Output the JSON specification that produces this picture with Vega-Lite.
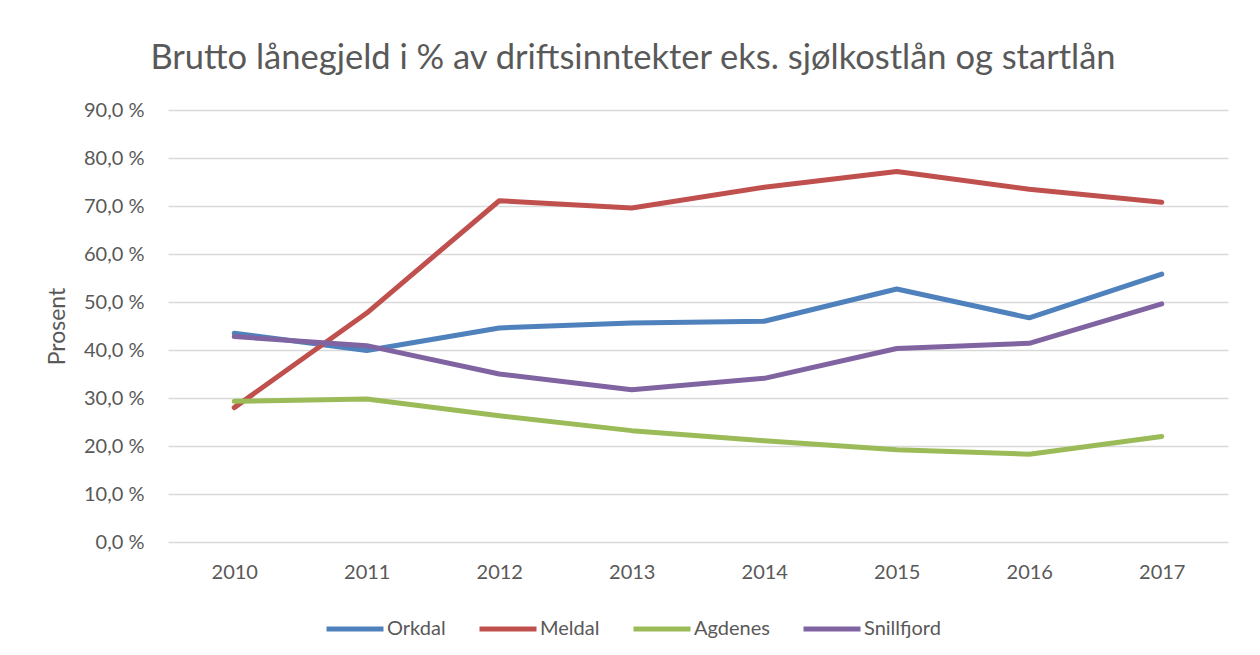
{
  "$schema": "https://vega.github.io/schema/vega-lite/v6.json",
  "width": 1060,
  "height": 432,
  "autosize": "none",
  "padding": {"left": 168, "top": 110, "right": 32, "bottom": 113},
  "background": "#ffffff",
  "title": {
    "text": "Brutto lånegjeld i % av driftsinntekter eks. sjølkostlån og startlån",
    "anchor": "middle",
    "frame": "group",
    "dx": -65,
    "offset": 24,
    "font": "Lato",
    "fontSize": 34.5,
    "fontWeight": "normal",
    "color": "#595959"
  },
  "data": {
    "values": [
      {"year": "2010", "kommune": "Orkdal", "value": 43.5},
      {"year": "2011", "kommune": "Orkdal", "value": 39.9},
      {"year": "2012", "kommune": "Orkdal", "value": 44.6},
      {"year": "2013", "kommune": "Orkdal", "value": 45.6},
      {"year": "2014", "kommune": "Orkdal", "value": 46.0},
      {"year": "2015", "kommune": "Orkdal", "value": 52.7},
      {"year": "2016", "kommune": "Orkdal", "value": 46.7},
      {"year": "2017", "kommune": "Orkdal", "value": 55.8},
      {"year": "2010", "kommune": "Meldal", "value": 28.0},
      {"year": "2011", "kommune": "Meldal", "value": 47.7},
      {"year": "2012", "kommune": "Meldal", "value": 71.1},
      {"year": "2013", "kommune": "Meldal", "value": 69.6},
      {"year": "2014", "kommune": "Meldal", "value": 73.9},
      {"year": "2015", "kommune": "Meldal", "value": 77.2},
      {"year": "2016", "kommune": "Meldal", "value": 73.5},
      {"year": "2017", "kommune": "Meldal", "value": 70.8},
      {"year": "2010", "kommune": "Agdenes", "value": 29.3},
      {"year": "2011", "kommune": "Agdenes", "value": 29.8},
      {"year": "2012", "kommune": "Agdenes", "value": 26.3},
      {"year": "2013", "kommune": "Agdenes", "value": 23.2},
      {"year": "2014", "kommune": "Agdenes", "value": 21.1},
      {"year": "2015", "kommune": "Agdenes", "value": 19.2},
      {"year": "2016", "kommune": "Agdenes", "value": 18.3},
      {"year": "2017", "kommune": "Agdenes", "value": 22.0},
      {"year": "2010", "kommune": "Snillfjord", "value": 42.8},
      {"year": "2011", "kommune": "Snillfjord", "value": 40.9},
      {"year": "2012", "kommune": "Snillfjord", "value": 35.0},
      {"year": "2013", "kommune": "Snillfjord", "value": 31.7},
      {"year": "2014", "kommune": "Snillfjord", "value": 34.1},
      {"year": "2015", "kommune": "Snillfjord", "value": 40.3},
      {"year": "2016", "kommune": "Snillfjord", "value": 41.4},
      {"year": "2017", "kommune": "Snillfjord", "value": 49.6}
    ]
  },
  "mark": {"type": "line", "strokeWidth": 5, "strokeCap": "round", "strokeJoin": "round"},
  "encoding": {
    "x": {
      "field": "year",
      "type": "ordinal",
      "scale": {"type": "point", "padding": 0.5},
      "axis": {
        "title": null,
        "labelAngle": 0,
        "ticks": false,
        "domain": false,
        "grid": false,
        "labelPadding": 20,
        "labelFont": "Lato",
        "labelFontSize": 20,
        "labelColor": "#595959"
      }
    },
    "y": {
      "field": "value",
      "type": "quantitative",
      "scale": {"domain": [0, 90], "nice": false},
      "axis": {
        "values": [0, 10, 20, 30, 40, 50, 60, 70, 80, 90],
        "labelExpr": "replace(format(datum.value, '.1f'), '.', ',') + ' %'",
        "title": "Prosent",
        "titleFont": "Lato",
        "titleFontSize": 23,
        "titleFontWeight": "normal",
        "titleColor": "#595959",
        "titlePadding": 14,
        "ticks": false,
        "domain": false,
        "gridColor": "#D9D9D9",
        "gridWidth": 1.5,
        "labelPadding": 24,
        "labelFont": "Lato",
        "labelFontSize": 20,
        "labelColor": "#595959"
      }
    },
    "color": {
      "field": "kommune",
      "type": "nominal",
      "sort": ["Orkdal", "Meldal", "Agdenes", "Snillfjord"],
      "scale": {
        "domain": ["Orkdal", "Meldal", "Agdenes", "Snillfjord"],
        "range": ["#4F81BD", "#C0504D", "#9BBB59", "#8064A2"]
      },
      "legend": {
        "title": null,
        "orient": "none",
        "legendX": 156,
        "legendY": 488,
        "direction": "horizontal",
        "symbolType": "stroke",
        "symbolSize": 3249,
        "symbolStrokeWidth": 5,
        "labelFont": "Lato",
        "labelFontSize": 20,
        "labelColor": "#595959",
        "labelOffset": 1,
        "columnPadding": 23
      }
    }
  },
  "config": {
    "view": {"stroke": null}
  }
}
